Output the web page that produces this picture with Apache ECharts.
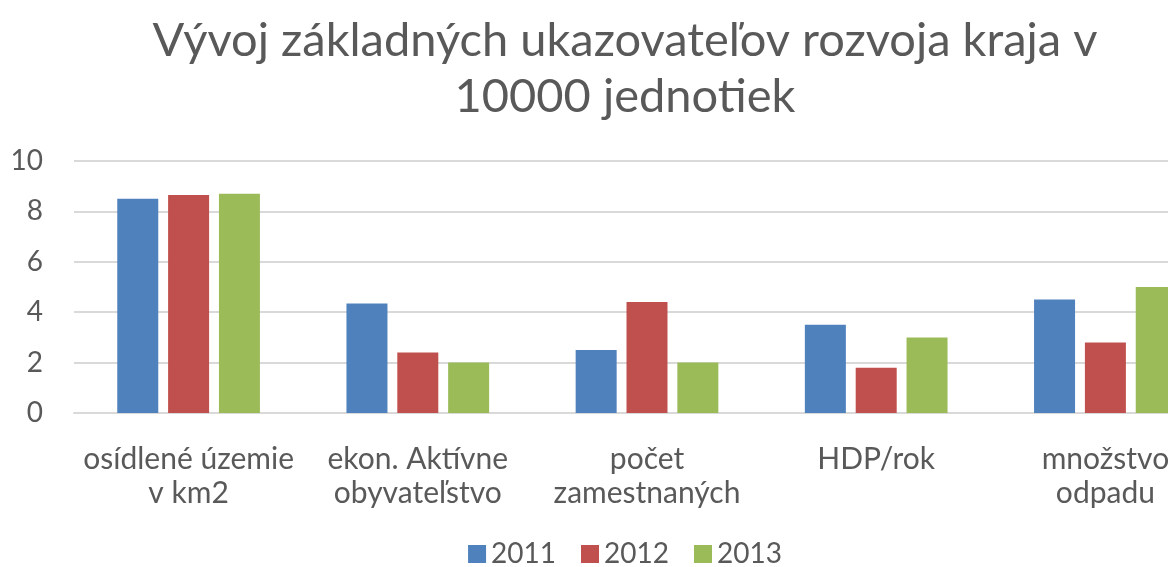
<!DOCTYPE html>
<html>
<head>
<meta charset="utf-8">
<script src="https://cdn.jsdelivr.net/npm/echarts@6/dist/echarts.min.js"></script>
<style>
  html, body { margin: 0; padding: 0; overflow: hidden; background: #fff; }
  #chart { width: 1250px; height: 567px; }
</style>
</head>
<body>
<div id="chart"></div>
<script>
const categories = ['osídlené územie\nv km2', 'ekon. Aktívne\nobyvateľstvo', 'počet\nzamestnaných', 'HDP/rok', 'množstvo\nodpadu']
const years = ['2011', '2012', '2013']
const values2011 = [8.5, 4.35, 2.5, 3.5, 4.5]
const values2012 = [8.65, 2.4, 4.4, 1.8, 2.8]
const values2013 = [8.7, 2.0, 2.0, 3.0, 5.0]
const yTicks = [0, 2, 4, 6, 8, 10]

const textColor = '#595959'
const font = 'Lato'
const colors = ['#4f81bd', '#c0504d', '#9bbb59']

const chart = echarts.init(document.getElementById('chart'))
const seriesData = [values2011, values2012, values2013]

chart.setOption({
  animation: false,
  color: colors,
  title: {
    text: 'Vývoj základných ukazovateľov rozvoja kraja v\n10000 jednotiek',
    left: 'center',
    top: 8,
    textStyle: { fontFamily: font, fontSize: 47, fontWeight: 'normal', color: textColor, lineHeight: 56 },
  },
  legend: {
    data: years,
    bottom: -6,
    left: 'center',
    itemWidth: 18,
    itemHeight: 18,
    itemGap: 25,
    icon: 'rect',
    textStyle: { fontFamily: font, fontSize: 28, color: textColor },
  },
  grid: { left: 74, right: 30, top: 161, bottom: 154 },
  xAxis: {
    type: 'category',
    data: categories,
    axisLine: { lineStyle: { color: '#d9d9d9', width: 2 } },
    axisTick: { show: false },
    axisLabel: { fontFamily: font, fontSize: 30, color: textColor, lineHeight: 34, margin: 29, interval: 0 },
  },
  yAxis: {
    type: 'value',
    min: yTicks[0],
    max: yTicks[yTicks.length - 1],
    interval: 2,
    axisLine: { show: false },
    axisTick: { show: false },
    axisLabel: { fontFamily: font, fontSize: 28, color: textColor, margin: 31 },
    splitLine: { lineStyle: { color: '#d9d9d9', width: 2 } },
  },
  series: years.map((y, i) => ({
    name: y,
    type: 'bar',
    data: seriesData[i],
    barWidth: 41,
    barGap: '24%',
  })),
})
</script>
</body>
</html>
